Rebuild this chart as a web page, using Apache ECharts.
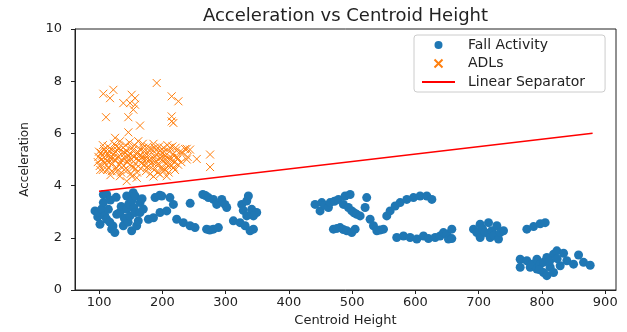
<!DOCTYPE html>
<html>
<head>
<meta charset="utf-8">
<script src="https://cdn.jsdelivr.net/npm/echarts@6/dist/echarts.min.js"></script>
<style>
  html, body { margin: 0; padding: 0; background: #fff; }
  #chart { width: 627px; height: 332px; }
</style>
</head>
<body>
<div id="chart"></div>
<script>
// tick labels
const xTicks = [100, 200, 300, 400, 500, 600, 700, 800, 900];

// Fall Activity: [centroid height, acceleration]
const fallActivity = [
  [93.6, 3.03], [98, 2.8], [99, 2.97], [101.5, 2.52], [104, 3.1], [106.8, 3.35], [106.8, 3.66],
  [109, 2.85], [112, 2.71], [112, 3.66], [114.7, 3.09], [117, 2.6], [118, 3.45], [120, 2.33],
  [122, 2.45], [125, 2.2], [127, 3.55], [128, 2.9], [133, 2.97], [135, 3.2], [138.4, 2.46],
  [140, 2.75], [143.7, 3.09], [143.7, 3.6], [146, 2.6], [147, 3.3], [149, 2.84], [151.6, 2.27],
  [151.6, 3.41], [154, 3.73], [155, 3.15], [157, 3.6], [157, 2.97], [159.5, 2.46], [162, 2.65],
  [164.8, 3.35], [164.8, 2.97], [168, 3.5], [170, 3.1],
  [178, 2.71], [186, 2.77], [188.5, 3.54], [196, 3.63], [196.4, 2.97], [199, 3.6], [207, 3.03],
  [212, 3.54], [217.5, 3.28], [222.7, 2.71], [233.3, 2.58], [243.8, 2.46], [244, 3.32], [251.7, 2.39],
  [264, 3.66], [268, 3.62], [272.8, 3.54], [280.7, 3.47], [286, 3.28], [294, 3.47], [299, 3.28],
  [301.8, 3.16], [270, 2.33], [275, 2.3], [280.7, 2.33], [288.6, 2.39], [312.3, 2.65], [322.9, 2.58],
  [330.8, 2.46], [338.7, 2.27], [344, 2.33], [325.5, 3.28], [328, 3.05], [333.4, 3.41], [341.3, 3.09],
  [349.2, 2.97], [344, 2.84], [333.4, 2.84], [336, 3.6],
  [441.4, 3.28], [449.3, 3.03], [452, 3.35], [457, 3.25], [462.5, 3.16], [465.2, 3.35], [472, 3.4],
  [478.3, 3.47], [486.2, 3.28], [488.9, 3.6], [494.1, 3.16], [496.8, 3.66], [499.4, 3.03], [503, 2.96],
  [507.3, 2.9], [512.6, 2.84], [520.5, 3.16], [523, 3.54], [470.4, 2.33], [476, 2.36], [481, 2.39],
  [486, 2.32], [491.5, 2.27], [499.4, 2.2], [504.7, 2.33], [528.4, 2.71], [533.7, 2.46], [539, 2.27],
  [544, 2.3], [549.5, 2.33], [554.7, 2.84], [560, 3.03], [568, 3.22], [575.8, 3.35],
  [586.4, 3.47], [596.9, 3.54], [607.4, 3.6], [618, 3.6], [626, 3.47],
  [570.5, 2.01], [581.1, 2.07], [591.6, 2.01], [602.2, 1.95], [612.7, 2.07], [620.6, 1.97],
  [631.2, 2.01], [639, 2.07], [644.3, 2.2], [649.6, 2.14], [652.2, 1.95], [657.5, 2.33], [657.5, 1.97],
  [691.8, 2.33], [697, 2.2], [702.3, 2.52], [702.3, 2.01], [706, 2.35], [710.2, 2.2], [715.5, 2.58],
  [718.1, 2.01], [720.8, 2.27], [724, 2.1], [728.7, 2.46], [731.3, 1.95], [734, 2.2], [739.2, 2.27],
  [776.1, 2.33], [786.7, 2.43], [797.2, 2.54], [805.1, 2.58],
  [765.6, 1.18], [765.6, 0.87], [776.1, 1.12], [781.4, 0.87], [784, 0.99], [792, 1.18], [792, 0.8],
  [797.2, 0.99], [802.5, 0.67], [802.5, 1.06], [807.7, 0.55], [807.7, 1.25], [813, 0.87], [818.3, 1.37],
  [818.3, 0.67], [823.5, 1.5], [828.8, 0.93], [834.1, 1.41], [839.3, 1.12], [849.9, 0.99],
  [857.8, 1.34], [865.7, 1.06], [876.2, 0.95], [812, 1.1], [824, 1.2], [796, 0.78]
];

// ADLs: [centroid height, acceleration]
const adls = [
  [106.8, 7.52], [122.6, 7.67], [117.4, 7.35], [151.6, 7.48], [156.9, 7.35], [149, 7.16],
  [138.4, 7.16], [156.9, 7.1], [154.2, 6.91], [191.1, 7.93], [214.8, 7.42], [225.4, 7.23],
  [214.8, 6.65], [214.8, 6.46], [217.5, 6.4], [111, 6.62], [146.3, 6.62], [164.8, 6.3],
  [146.3, 6.04], [125.3, 5.83], [238.6, 5.41], [243.8, 5.38], [254.4, 5.02], [275.5, 5.19],
  [275.5, 4.71], [238.6, 5.0], [143.7, 4.17], [133, 4.36], [159.5, 4.3], [196.4, 4.43], [207, 4.36],
  [232, 5.25], [236, 5.4], [240, 5.1],
  [98, 4.9], [99, 5.1], [101, 4.75], [103, 5.25], [104, 5.0], [106, 4.6], [108, 5.4], [109, 4.85],
  [111, 5.15], [112, 4.95], [114, 5.5], [115, 4.7], [117, 5.3], [118, 5.05], [120, 4.55], [121, 4.85],
  [123, 5.2], [124, 5.6], [126, 4.95], [127, 4.65], [129, 5.35], [130, 5.1], [132, 4.8], [133, 5.7],
  [135, 4.5], [136, 5.0], [138, 5.45], [139, 4.75], [141, 5.25], [142, 5.55], [144, 4.9], [145, 4.6],
  [147, 5.15], [148, 5.65], [150, 4.45], [151, 5.0], [153, 5.35], [154, 4.7], [156, 5.55], [157, 4.85],
  [159, 5.2], [160, 4.5], [162, 5.7], [163, 4.95], [165, 5.4], [166, 4.65], [168, 5.1], [169, 5.6],
  [171, 4.8], [172, 5.3], [174, 4.55], [175, 5.0], [177, 5.5], [178, 4.75], [180, 5.2], [181, 4.45],
  [183, 5.4], [184, 4.9], [186, 5.6], [187, 4.6], [189, 5.1], [190, 5.35], [192, 4.8], [193, 4.5],
  [195, 5.5], [196, 5.05], [198, 4.7], [199, 5.25], [201, 4.95], [202, 5.45], [204, 4.6], [205, 5.15],
  [207, 4.85], [208, 5.55], [210, 4.5], [211, 5.3], [213, 5.0], [214, 4.75], [216, 5.5], [217, 5.2],
  [219, 4.9], [220, 4.6], [222, 5.35], [223, 5.1], [225, 4.8], [106, 5.55], [118, 4.4], [128, 5.5],
  [152, 4.35], [186, 4.35], [160, 5.05], [140, 5.05], [170, 5.0], [190, 4.95], [125, 5.0], [150, 5.2],
  [180, 4.95], [200, 5.1], [115, 5.15], [210, 5.0],
  [100, 5.3], [102, 4.6], [105, 5.15], [107, 4.95], [110, 5.3], [113, 4.6], [116, 4.9], [119, 5.4],
  [122, 5.05], [126, 5.3], [128, 4.55], [131, 5.45], [134, 4.9], [137, 5.25], [140, 4.6], [143, 5.35],
  [146, 5.0], [149, 4.8], [152, 5.45], [155, 5.1], [158, 4.65], [161, 5.3], [164, 5.15], [167, 4.85],
  [170, 5.45], [173, 5.15], [176, 4.7], [179, 5.35], [182, 5.05], [185, 4.75], [188, 5.45], [191, 5.2],
  [194, 4.85], [197, 5.35], [200, 4.6], [203, 5.3], [206, 5.0], [209, 4.75], [212, 5.45], [215, 5.05],
  [218, 4.7], [221, 5.45], [224, 5.0], [228, 5.3], [230, 4.9]
];

// linear separator end points
const separatorX = [100, 880];
const separatorY = [3.78, 6.01];

const font = 'DejaVu Sans';
const xMark = 'path://M0,0L10,10M10,0L0,10';

const chart = echarts.init(document.getElementById('chart'));
chart.setOption({
  animation: false,
  backgroundColor: '#fff',
  textStyle: { fontFamily: font },
  title: {
    text: 'Acceleration vs Centroid Height',
    left: 345.5,
    textAlign: 'center',
    top: 7,
    padding: 0,
    textStyle: { fontFamily: font, fontSize: 18, fontWeight: 'normal', color: '#222' }
  },
  grid: {
    left: 75, right: 11, top: 29, bottom: 41,
    show: true, borderColor: '#222', borderWidth: 1, backgroundColor: 'transparent'
  },
  legend: {
    orient: 'vertical',
    left: 414, top: 35,
    padding: [3, 20, 3, 7],
    itemWidth: 33, itemHeight: 8, itemGap: 4.5,
    borderColor: '#ccc', borderWidth: 1, borderRadius: 3,
    backgroundColor: 'rgba(255,255,255,0.8)',
    textStyle: { fontFamily: font, fontSize: 14, lineHeight: 14, color: '#222', padding: [0, 0, 0, 8] },
    data: [
      { name: 'Fall Activity', icon: 'circle' },
      { name: 'ADLs', icon: xMark },
      { name: 'Linear Separator', itemStyle: { opacity: 0 } }
    ]
  },
  xAxis: {
    type: 'value',
    min: 62, max: 917,
    name: 'Centroid Height',
    nameLocation: 'middle',
    nameGap: 24,
    nameTextStyle: { fontFamily: font, fontSize: 13, color: '#222' },
    axisLine: { show: true, lineStyle: { color: '#222' } },
    axisTick: { show: true, length: 4, customValues: xTicks, lineStyle: { color: '#222' } },
    axisLabel: { customValues: xTicks, fontSize: 13, color: '#222', margin: 6 },
    splitLine: { show: false }
  },
  yAxis: {
    type: 'value',
    min: 0, max: 10, interval: 2,
    name: 'Acceleration',
    nameLocation: 'middle',
    nameGap: 44,
    nameTextStyle: { fontFamily: font, fontSize: 12, color: '#222' },
    axisLine: { show: true, lineStyle: { color: '#222' } },
    axisTick: { show: true, length: 4, lineStyle: { color: '#222' } },
    axisLabel: { fontSize: 13, color: '#222', margin: 13 },
    splitLine: { show: false }
  },
  series: [
    {
      name: 'Fall Activity',
      type: 'scatter',
      symbol: 'circle',
      symbolSize: 9,
      itemStyle: { color: '#1f77b4', opacity: 1 },
      data: fallActivity
    },
    {
      name: 'ADLs',
      type: 'scatter',
      symbol: xMark,
      symbolSize: 8,
      itemStyle: { color: 'none', borderColor: '#ff7f0e', borderWidth: 1, opacity: 1 },
      data: adls
    },
    {
      name: 'Linear Separator',
      type: 'line',
      symbol: 'none',
      lineStyle: { color: '#ff0000', width: 1.5 },
      itemStyle: { color: '#ff0000' },
      data: separatorX.map((x, i) => [x, separatorY[i]])
    }
  ]
});
</script>
</body>
</html>
